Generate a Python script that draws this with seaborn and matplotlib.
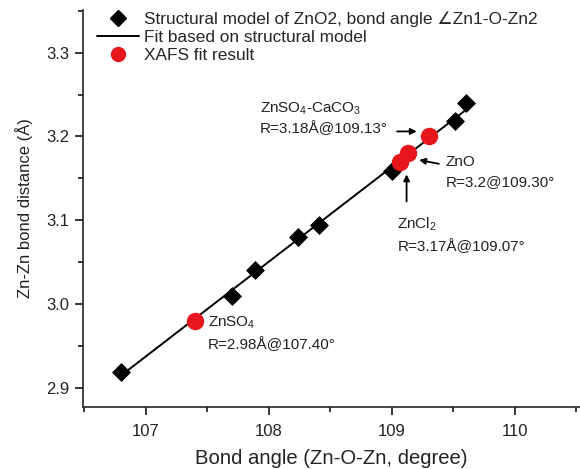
import numpy as np
import pandas as pd
import matplotlib
matplotlib.use("Agg")
import matplotlib.pyplot as plt
from matplotlib.lines import Line2D
from matplotlib.ticker import MultipleLocator, FormatStrFormatter
import seaborn as sns

# Structural model: Zn-O-Zn bond angle vs Zn-Zn distance
model_angle = [106.80, 107.70, 107.89, 108.24, 108.41, 109.00, 109.51, 109.60]
model_dist = [2.919, 3.010, 3.040, 3.080, 3.094, 3.159, 3.218, 3.240]

# XAFS fit results
xafs_label = ["ZnSO4", "ZnCl2", "ZnSO4-CaCO3", "ZnO"]
xafs_angle = [107.40, 109.07, 109.13, 109.30]
xafs_dist = [2.98, 3.17, 3.18, 3.20]

sns.set_style("ticks")
plt.rcParams["font.family"] = ["Liberation Sans", "DejaVu Sans"]
plt.rcParams["mathtext.fontset"] = "custom"
plt.rcParams["mathtext.rm"] = "Liberation Sans"
plt.rcParams["mathtext.it"] = "Liberation Sans:italic"

RED = "#e8161c"
TXT = "#222222"

fig = plt.figure(figsize=(5.8, 4.69), dpi=100)
ax = fig.add_axes([0.1431, 0.1322, 0.857, 0.8465])

model = pd.DataFrame({"angle": model_angle, "dist": model_dist})
xafs = pd.DataFrame({"angle": xafs_angle, "dist": xafs_dist, "sample": xafs_label})

sns.regplot(data=model, x="angle", y="dist", ci=None, truncate=True,
            scatter=False, line_kws=dict(color="black", lw=1.4, zorder=2), ax=ax)
sns.scatterplot(data=model, x="angle", y="dist", marker="D", s=80,
                color="black", edgecolor="black", zorder=3, ax=ax, legend=False)
sns.scatterplot(data=xafs, x="angle", y="dist", marker="o", s=135,
                color=RED, edgecolor=RED, zorder=4, ax=ax, legend=False)

ax.set_xlim(106.49, 110.53)
ax.set_ylim(2.877, 3.351)
ax.xaxis.set_major_locator(MultipleLocator(1))
ax.xaxis.set_minor_locator(MultipleLocator(0.5))
ax.yaxis.set_major_locator(MultipleLocator(0.1))
ax.yaxis.set_minor_locator(MultipleLocator(0.05))
ax.yaxis.set_major_formatter(FormatStrFormatter("%.1f"))
ax.tick_params(which="both", direction="out", width=1.1, colors="black",
               labelsize=12, labelcolor=TXT, pad=4)
ax.tick_params(axis="x", which="both", pad=7)
ax.tick_params(which="major", length=5.5)
ax.tick_params(which="minor", length=3.5)
for side in ("top", "right"):
    ax.spines[side].set_visible(False)
for side in ("left", "bottom"):
    ax.spines[side].set_linewidth(1.2)

ax.set_xlabel("Bond angle (Zn-O-Zn, degree)", fontsize=14.6, color=TXT, labelpad=7)
ax.set_ylabel("Zn-Zn bond distance (Å)", fontsize=12, color=TXT, labelpad=10)

handles = [
    Line2D([], [], ls="none", marker="D", ms=8, color="black"),
    Line2D([], [], ls="-", lw=1.4, color="black"),
    Line2D([], [], ls="none", marker="o", ms=10, color=RED),
]
labels = [
    "Structural model of ZnO2, bond angle \u2220Zn1-O-Zn2",
    "Fit based on structural model",
    "XAFS fit result",
]
ax.legend(handles, labels, loc="upper left", bbox_to_anchor=(0.028, 0.996),
          frameon=False, fontsize=12.4, handlelength=2.45, handletextpad=0.3,
          labelspacing=0.17, borderaxespad=0, borderpad=0)

fs = 11
ax.text(107.505, 2.977, "ZnSO$_\\mathregular{4}$", fontsize=fs, color=TXT, va="center")
ax.text(107.505, 2.952, "R=2.98Å@107.40°", fontsize=fs, color=TXT, va="center")

ax.text(109.045, 3.095, "ZnCl$_\\mathregular{2}$", fontsize=fs, color=TXT, va="center")
ax.text(109.045, 3.069, "R=3.17Å@109.07°", fontsize=fs, color=TXT, va="center")
ax.annotate("", xy=(109.12, 3.158), xytext=(109.12, 3.119),
            arrowprops=dict(arrowstyle="-|>", color="black", lw=1.3, mutation_scale=9))

ax.text(109.44, 3.169, "ZnO", fontsize=fs, color=TXT, va="center")
ax.text(109.44, 3.146, "R=3.2@109.30°", fontsize=fs, color=TXT, va="center")
ax.annotate("", xy=(109.20, 3.1726), xytext=(109.405, 3.1667),
            arrowprops=dict(arrowstyle="-|>", color="black", lw=1.3, mutation_scale=9))

ax.text(107.93, 3.2333, "ZnSO$_\\mathregular{4}$-CaCO$_\\mathregular{3}$", fontsize=fs, color=TXT, va="center")
ax.text(107.93, 3.2095, "R=3.18Å@109.13°", fontsize=fs, color=TXT, va="center")
ax.annotate("", xy=(109.225, 3.206), xytext=(109.02, 3.206),
            arrowprops=dict(arrowstyle="-|>", color="black", lw=1.3, mutation_scale=9))

fig.savefig("out.png", dpi=100)
